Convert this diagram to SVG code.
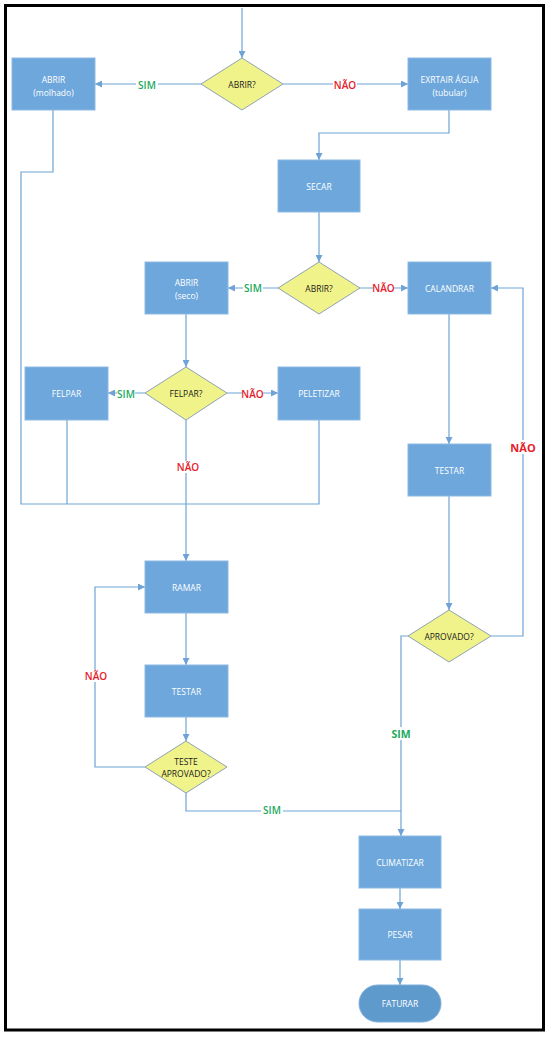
<svg xmlns="http://www.w3.org/2000/svg" width="552" height="1037" viewBox="0 0 552 1037">
<style>
.box{fill:#6DA7DB;stroke:#8DB9E2;stroke-width:1}
.dia{fill:#F0F38A;stroke:#8FA3B5;stroke-width:1}
.t{font-family:"Open Sans","Liberation Sans",sans-serif;font-size:8.5px;fill:#FFFFFF;text-anchor:middle;dominant-baseline:central}
.td{font-family:"Open Sans","Liberation Sans",sans-serif;font-size:8.5px;fill:#1A1A1A;text-anchor:middle;dominant-baseline:central}
.ln{fill:none;stroke:#6FA3D6;stroke-width:1.2}
.sim{font-family:"Open Sans","Liberation Sans",sans-serif;font-size:10px;font-weight:600;fill:#22A95B;text-anchor:middle;dominant-baseline:central}
.nao{font-family:"Open Sans","Liberation Sans",sans-serif;font-size:10px;font-weight:600;fill:#E5202A;text-anchor:middle;dominant-baseline:central}
.lbg{fill:#FFFFFF}
</style>
<defs>
<marker id="ah" viewBox="0 0 10 10" refX="10" refY="5" markerWidth="7" markerHeight="7" markerUnits="userSpaceOnUse" orient="auto">
<path d="M0,0 L10,5 L0,10 z" fill="#6FA3D6"/>
</marker>
</defs>
<rect x="0" y="0" width="552" height="1037" fill="#FFFFFF"/>
<rect x="5.5" y="5.5" width="538" height="1024.5" fill="none" stroke="#000000" stroke-width="3"/>

<g id="connectors">
<path class="ln" d="M242,8 V58" marker-end="url(#ah)"/>
<path class="ln" d="M201,84 H95" marker-end="url(#ah)"/>
<path class="ln" d="M283,84 H408" marker-end="url(#ah)"/>
<path class="ln" d="M449,110 V133 H319 V160" marker-end="url(#ah)"/>
<path class="ln" d="M319,212 V262" marker-end="url(#ah)"/>
<path class="ln" d="M278,288 H228" marker-end="url(#ah)"/>
<path class="ln" d="M360,288 H408" marker-end="url(#ah)"/>
<path class="ln" d="M186,314 V367" marker-end="url(#ah)"/>
<path class="ln" d="M145,393 H108" marker-end="url(#ah)"/>
<path class="ln" d="M227,393 H278" marker-end="url(#ah)"/>
<path class="ln" d="M186,420 V561" marker-end="url(#ah)"/>
<path class="ln" d="M53,110 V172 H21 V504 H319 V420"/>
<path class="ln" d="M67,420 V504"/>
<path class="ln" d="M449,314 V444" marker-end="url(#ah)"/>
<path class="ln" d="M449,496 V610" marker-end="url(#ah)"/>
<path class="ln" d="M491,636 H523 V288 H491" marker-end="url(#ah)"/>
<path class="ln" d="M408,636 H401 V836" marker-end="url(#ah)"/>
<path class="ln" d="M186,613 V665" marker-end="url(#ah)"/>
<path class="ln" d="M186,717 V741" marker-end="url(#ah)"/>
<path class="ln" d="M145,767 H95 V587 H145" marker-end="url(#ah)"/>
<path class="ln" d="M186,793 V811 H401"/>
<path class="ln" d="M400,888 V909" marker-end="url(#ah)"/>
<path class="ln" d="M400,960 V985" marker-end="url(#ah)"/>
</g>

<g id="labels">
<rect class="lbg" x="136" y="78" width="22" height="12"/><text class="sim" x="147" y="84.5">SIM</text>
<rect class="lbg" x="333" y="78" width="24" height="12"/><text class="nao" x="345" y="84.5">NÃO</text>
<rect class="lbg" x="243" y="282" width="20" height="12"/><text class="sim" x="253" y="288">SIM</text>
<rect class="lbg" x="373" y="282" width="21" height="12"/><text class="nao" x="383.5" y="288">NÃO</text>
<rect class="lbg" x="117" y="387" width="18" height="12"/><text class="sim" x="126" y="393.5">SIM</text>
<rect class="lbg" x="242" y="387" width="21" height="12"/><text class="nao" x="252.5" y="393.5">NÃO</text>
<rect class="lbg" x="177" y="461" width="22" height="12"/><text class="nao" x="188" y="467">NÃO</text>
<rect class="lbg" x="511" y="440" width="26" height="14"/><text class="nao" x="523" y="447" style="font-size:11px;font-weight:bold">NÃO</text>
<rect class="lbg" x="389" y="727" width="24" height="13"/><text class="sim" x="401" y="733.5" style="font-size:10.5px;font-weight:bold">SIM</text>
<rect class="lbg" x="86" y="670" width="21" height="12"/><text class="nao" x="96" y="676">NÃO</text>
<rect class="lbg" x="261" y="803" width="22" height="12"/><text class="sim" x="272" y="809.5">SIM</text>
</g>

<g id="n_abrir_molhado"><rect class="box" x="12" y="58" width="83" height="52"/><text class="t" x="53.5" y="79">ABRIR</text><text class="t" x="53.5" y="92">(molhado)</text></g>
<g id="n_abrir_q1"><polygon class="dia" points="242,58 283,84 242,110 201,84"/><text class="td" x="242" y="84">ABRIR?</text></g>
<g id="n_extrair"><rect class="box" x="408" y="58" width="83" height="52"/><text class="t" x="449.5" y="79">EXRTAIR ÁGUA</text><text class="t" x="449.5" y="92">(tubular)</text></g>
<g id="n_secar"><rect class="box" x="278" y="160" width="82" height="52"/><text class="t" x="319" y="186">SECAR</text></g>
<g id="n_abrir_q2"><polygon class="dia" points="319,262 360,288 319,314 278,288"/><text class="td" x="319" y="288">ABRIR?</text></g>
<g id="n_abrir_seco"><rect class="box" x="145" y="262" width="83" height="52"/><text class="t" x="186.5" y="282">ABRIR</text><text class="t" x="186.5" y="295">(seco)</text></g>
<g id="n_calandrar"><rect class="box" x="408" y="262" width="83" height="52"/><text class="t" x="449.5" y="288">CALANDRAR</text></g>
<g id="n_felpar_q"><polygon class="dia" points="186,367 227,393 186,420 145,393"/><text class="td" x="186" y="393.5">FELPAR?</text></g>
<g id="n_felpar"><rect class="box" x="25" y="367" width="83" height="53"/><text class="t" x="66.5" y="393.5">FELPAR</text></g>
<g id="n_peletizar"><rect class="box" x="278" y="367" width="82" height="53"/><text class="t" x="319" y="393.5">PELETIZAR</text></g>
<g id="n_testar1"><rect class="box" x="408" y="444" width="83" height="52"/><text class="t" x="449.5" y="470">TESTAR</text></g>
<g id="n_aprovado"><polygon class="dia" points="449,610 491,636 449,662 408,636"/><text class="td" x="449" y="636">APROVADO?</text></g>
<g id="n_ramar"><rect class="box" x="145" y="561" width="83" height="52"/><text class="t" x="186.5" y="587">RAMAR</text></g>
<g id="n_testar2"><rect class="box" x="145" y="665" width="83" height="52"/><text class="t" x="186.5" y="691">TESTAR</text></g>
<g id="n_teste_aprovado"><polygon class="dia" points="186,741 227,767 186,793 145,767"/><text class="td" x="186" y="761">TESTE</text><text class="td" x="186" y="773">APROVADO?</text></g>
<g id="n_climatizar"><rect class="box" x="359" y="836" width="82" height="52"/><text class="t" x="400" y="862">CLIMATIZAR</text></g>
<g id="n_pesar"><rect class="box" x="359" y="909" width="82" height="51"/><text class="t" x="400" y="934.5">PESAR</text></g>
<g id="n_faturar"><rect x="359" y="985" width="82" height="37" rx="18.5" ry="18.5" fill="#5F9ACD" stroke="#7FAEDB" stroke-width="1"/><text class="t" x="400" y="1003.5">FATURAR</text></g>
</svg>
